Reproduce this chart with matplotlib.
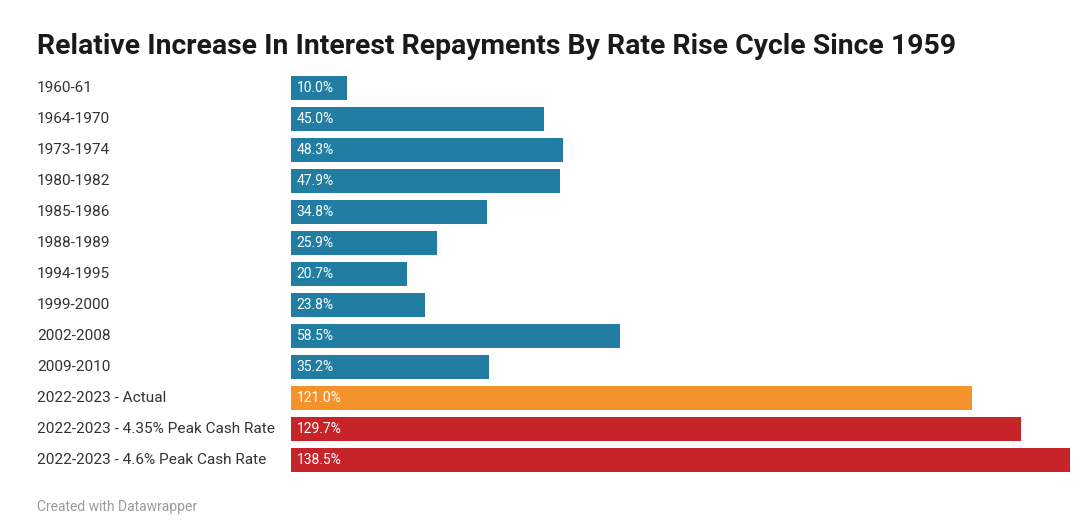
import matplotlib
matplotlib.use("Agg")
import matplotlib.pyplot as plt
import matplotlib.transforms as mtransforms

categories = ["1960-61", "1964-1970", "1973-1974", "1980-1982", "1985-1986",
              "1988-1989", "1994-1995", "1999-2000", "2002-2008", "2009-2010",
              "2022-2023 - Actual", "2022-2023 - 4.35% Peak Cash Rate",
              "2022-2023 - 4.6% Peak Cash Rate"]
values = [10.0, 45.0, 48.3, 47.9, 34.8, 25.9, 20.7, 23.8, 58.5, 35.2, 121.0, 129.7, 138.5]
groups = ["hist"] * 10 + ["actual", "proj", "proj"]
group_colors = {"hist": "#217ea2", "actual": "#f4922c", "proj": "#c7242a"}

title = "Relative Increase In Interest Repayments By Rate Rise Cycle Since 1959"
footer = "Created with Datawrapper"

plt.rcParams['font.family'] = ['Roboto', 'DejaVu Sans']

fig = plt.figure(figsize=(10.8, 5.22), dpi=100)
W, H = 1080, 522
left, right = 291 / W, 1070 / W
top, bottom = 1 - 72.5 / H, 1 - 475.5 / H
ax = fig.add_axes([left, bottom, right - left, top - bottom])

ypos = list(range(len(categories)))
colors = [group_colors[g] for g in groups]
ax.barh(ypos, values, height=0.8, color=colors, edgecolor="none")
ax.set_xlim(0, max(values))
ax.set_ylim(len(categories) - 0.5, -0.5)
ax.axis("off")

for y, v in zip(ypos, values):
    ax.text(1.0, y, f"{v:.1f}%", color="white", fontsize=10, va="center", ha="left")

blend = mtransforms.blended_transform_factory(fig.transFigure, ax.transData)
for y, c in zip(ypos, categories):
    ax.text(37 / W, y, c, transform=blend, fontsize=11.1, color="#333333",
            va="center", ha="left")

fig.text(37 / W, 1 - 47 / H, title, fontsize=20.4, fontweight="bold",
         color="#1a1a1a", va="center", ha="left")
fig.text(37 / W, 1 - 507 / H, footer, fontsize=10, color="#9a9a9a",
         va="center", ha="left")

fig.savefig("out.png", dpi=100, facecolor="white")
